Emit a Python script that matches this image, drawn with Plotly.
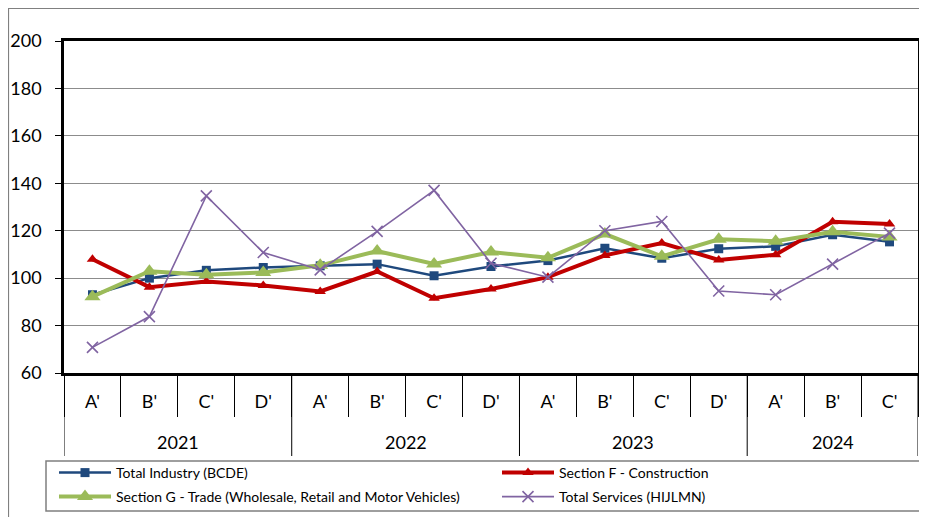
import plotly.graph_objects as go

years = ["2021", "2022", "2023", "2024"]
quarters_per_year = [4, 4, 4, 3]
quarters = ["A'", "B'", "C'", "D'", "A'", "B'", "C'", "D'", "A'", "B'", "C'", "D'", "A'", "B'", "C'"]

industry = [93.0, 100.0, 103.3, 104.5, 105.2, 105.9, 101.0, 104.9, 107.4, 112.6, 108.4, 112.4, 113.4, 118.3, 115.3]
construction = [108.0, 96.2, 98.6, 96.9, 94.4, 102.8, 91.5, 95.4, 100.4, 109.6, 114.8, 107.7, 109.9, 123.8, 122.8]
trade = [92.2, 102.9, 101.4, 102.4, 105.4, 111.4, 106.0, 111.0, 108.6, 118.6, 109.2, 116.4, 115.6, 119.6, 117.4]
services = [70.8, 83.8, 134.7, 110.8, 103.5, 119.7, 137.0, 106.3, 100.4, 120.0, 123.9, 94.6, 93.0, 105.9, 119.0]

names = ["Total Industry (BCDE)", "Section F - Construction",
         "Section G - Trade (Wholesale, Retail and Motor Vehicles)", "Total Services (HIJLMN)"]

xi = list(range(len(quarters)))
font = "Lato, 'Open Sans', sans-serif"

# figure geometry (page body adds an 8px offset)
W, H = 919, 509
L, R, T, B = 56, 9, 33, 144
PW, PH = W - L - R, H - T - B


def px_x(p):
    return (p - L) / PW


def px_y(p):
    return (H - B - p) / PH


fig = go.Figure()
fig.add_trace(go.Scatter(x=xi, y=industry, name=names[0], mode="lines+markers", legend="legend",
                         line=dict(color="#1F497D", width=2.5),
                         marker=dict(symbol="square", size=9, color="#1F497D")))
fig.add_trace(go.Scatter(x=xi, y=construction, name=names[1], mode="lines+markers", legend="legend",
                         line=dict(color="#C00000", width=4),
                         marker=dict(symbol="triangle-up", size=10, color="#C00000")))
fig.add_trace(go.Scatter(x=xi, y=trade, name=names[2], mode="lines+markers", legend="legend2",
                         line=dict(color="#9BBB59", width=4),
                         marker=dict(symbol="triangle-up", size=14, color="#9BBB59")))
fig.add_trace(go.Scatter(x=xi, y=services, name=names[3], mode="lines+markers", legend="legend2",
                         line=dict(color="#8064A2", width=1.6),
                         marker=dict(symbol="x-thin-open", size=11, color="#8064A2",
                                     line=dict(color="#8064A2", width=1.6))))

leg_common = dict(orientation="h", xanchor="left", yanchor="middle",
                  entrywidth=376, entrywidthmode="pixels", borderwidth=0,
                  bgcolor="rgba(0,0,0,0)",
                  font=dict(family=font, size=14, color="black"),
                  traceorder="normal", itemwidth=52)

fig.update_layout(
    width=W, height=H,
    margin=dict(l=L, r=R, t=T, b=B, autoexpand=False),
    paper_bgcolor="white", plot_bgcolor="white",
    font=dict(family=font, size=18, color="black"),
    showlegend=True,
    legend=dict(x=px_x(46), y=px_y(465), **leg_common),
    legend2=dict(x=px_x(46), y=px_y(489), **leg_common),
    xaxis=dict(range=[-0.5, len(quarters) - 0.5], tickmode="array", tickvals=xi, ticktext=quarters,
               showline=True, linecolor="black", linewidth=2.5, mirror=True, showgrid=False,
               ticks="", ticklabelstandoff=11, automargin=False,
               minor=dict(tickmode="linear", tick0=0.5, dtick=1, ticks="outside", ticklen=41,
                          tickcolor="black", tickwidth=1, showgrid=False),
               tickfont=dict(family=font, size=18, color="black"), zeroline=False),
    yaxis=dict(range=[60, 200], dtick=20, showline=True, linecolor="black", linewidth=2.5,
               mirror=True, showgrid=True, gridcolor="#8c8c8c", gridwidth=1,
               ticks="outside", ticklen=6, tickcolor="black", automargin=False,
               ticklabelstandoff=10,
               tickfont=dict(family=font, size=18, color="black"), zeroline=False),
)

# year group dividers and labels
start = -0.5
for yr, n in zip(years, quarters_per_year):
    fig.add_shape(type="line", xref="x", yref="paper", x0=start, x1=start, y0=0, y1=-83 / PH,
                  line=dict(color="black", width=1))
    fig.add_annotation(x=start + n / 2, y=-69 / PH, xref="x", yref="paper", text=yr,
                       showarrow=False, yanchor="middle",
                       font=dict(family=font, size=18, color="black"))
    start += n
fig.add_shape(type="line", xref="x", yref="paper", x0=start, x1=start, y0=0, y1=-83 / PH,
              line=dict(color="black", width=1))

# legend box
fig.add_shape(type="rect", xref="paper", yref="paper",
              x0=px_x(38), x1=px_x(918), y0=px_y(503), y1=px_y(453),
              line=dict(color="#7f7f7f", width=1.5), fillcolor="rgba(0,0,0,0)")

# outer chart border
fig.add_shape(type="rect", xref="paper", yref="paper",
              x0=px_x(0.5), x1=px_x(W + 20), y0=px_y(H + 20), y1=px_y(0.5),
              line=dict(color="#808080", width=1.2), fillcolor="rgba(0,0,0,0)", layer="below")

fig.write_html("out.html")
